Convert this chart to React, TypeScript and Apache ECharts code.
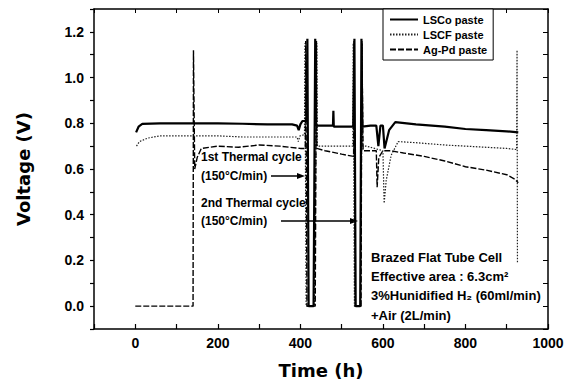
import React, { useEffect, useRef } from "react";
import * as echarts from "echarts";

const seriesNames = ["LSCo paste", "LSCF paste", "Ag-Pd paste"];

const lscoTime = [2, 8, 17, 60, 140, 200, 260, 320, 380, 392, 396, 400, 405, 415, 417, 420, 432, 436, 438, 470, 479, 480, 481, 528, 531, 534, 545, 548, 550, 570, 584, 589, 594, 600, 604, 615, 630, 680, 750, 800, 850, 900, 928];
const lscoV = [0.76, 0.785, 0.797, 0.8, 0.8, 0.8, 0.798, 0.795, 0.795, 0.79, 0.77, 0.795, 0.81, 0.81, 1.17, 0.0, 0.0, 1.17, 0.79, 0.79, 0.79, 0.855, 0.785, 0.785, 1.17, 0.0, 0.0, 1.17, 0.785, 0.79, 0.79, 0.7, 0.79, 0.79, 0.69, 0.77, 0.805, 0.795, 0.785, 0.775, 0.77, 0.765, 0.76];

const lscfTime = [3, 10, 30, 60, 140, 200, 260, 320, 380, 392, 395, 399, 410, 411, 414, 434, 440, 441, 450, 490, 527, 528, 531, 546, 550, 551, 560, 580, 600, 603, 608, 620, 637, 680, 750, 800, 850, 900, 924, 925, 926];
const lscfV = [0.7, 0.72, 0.735, 0.745, 0.745, 0.745, 0.74, 0.74, 0.74, 0.74, 0.72, 0.745, 0.75, 1.15, 0.0, 0.0, 1.15, 0.7, 0.7, 0.7, 0.7, 1.15, 0.0, 0.0, 1.15, 0.7, 0.7, 0.69, 0.68, 0.45, 0.55, 0.66, 0.72, 0.715, 0.705, 0.7, 0.695, 0.69, 0.685, 1.12, 0.19];

const agpdTime = [0, 140, 141, 144, 150, 160, 200, 250, 300, 350, 400, 412, 413, 416, 436, 439, 440, 460, 500, 529, 530, 533, 547, 549, 552, 570, 584, 586, 590, 600, 618, 650, 700, 750, 800, 850, 900, 920, 928];
const agpdV = [0.0, 0.0, 1.12, 0.6, 0.65, 0.69, 0.7, 0.695, 0.705, 0.7, 0.69, 0.69, 1.16, 0.0, 0.0, 1.16, 0.69, 0.68, 0.665, 0.655, 1.16, 0.0, 0.0, 1.16, 0.68, 0.68, 0.68, 0.52, 0.65, 0.68, 0.68, 0.67, 0.655, 0.635, 0.61, 0.595, 0.575, 0.555, 0.54];

const xMin = -100;
const xMax = 1000;
const yMin = -0.1;
const yMax = 1.3;

const zip = (t: number[], v: number[]) => t.map((x, i) => [x, v[i]]);

const FONT = "Liberation Sans, Arial, sans-serif";
const TITLE_FONT = "DejaVu Sans, sans-serif";

export default function App() {
  const ref = useRef<HTMLDivElement>(null);
  useEffect(() => {
    if (!ref.current) return;
    const chart = echarts.init(ref.current, undefined, { renderer: "svg" });
    const axisLine = { show: true, onZero: false, lineStyle: { color: "#000", width: 1.5 } };
    const txt = (text: string, x: number, y: number, size = 12) => ({
      type: "text",
      x,
      y,
      style: {
        text,
        fill: "#000",
        fontSize: size,
        fontWeight: "bold",
        fontFamily: FONT,
        verticalAlign: "middle",
        align: "left",
      },
    });
    chart.setOption({
      animation: false,
      backgroundColor: "#fff",
      grid: { left: 94, right: 21, top: 9, bottom: 58, containLabel: false },
      legend: {
        data: seriesNames,
        orient: "vertical",
        left: 383,
        top: 9,
        padding: [5, 6, 5, 6],
        itemGap: 4,
        itemWidth: 28,
        itemHeight: 10,
        borderColor: "#000",
        borderWidth: 1,
        backgroundColor: "#fff",
        itemStyle: { opacity: 0 },
        textStyle: { fontSize: 11, fontWeight: "bold", fontFamily: FONT, color: "#000" },
      },
      xAxis: [
        {
          type: "value",
          min: xMin,
          max: xMax,
          interval: 100,
          name: "Time (h)",
          nameLocation: "middle",
          nameGap: 32,
          nameTextStyle: { fontSize: 18, fontWeight: "bold", fontFamily: TITLE_FONT, color: "#000" },
          axisLine,
          axisTick: { show: true, inside: true, length: 5, lineStyle: { color: "#000", width: 1.2 } },
          axisLabel: {
            margin: 7,
            fontSize: 14,
            fontWeight: "bold",
            fontFamily: FONT,
            color: "#000",
            formatter: (v: number) => {
              const r = Math.round(v);
              return r < 0 || r % 200 !== 0 ? "" : String(r);
            },
          },
          splitLine: { show: false },
        },
        {
          type: "value",
          position: "top",
          min: xMin,
          max: xMax,
          interval: 100,
          axisLine,
          axisTick: { show: true, inside: true, length: 4, lineStyle: { color: "#000" } },
          axisLabel: { show: false },
          splitLine: { show: false },
        },
      ],
      yAxis: [
        {
          type: "value",
          min: yMin,
          max: yMax,
          interval: 0.1,
          name: "Voltage (V)",
          nameLocation: "middle",
          nameGap: 62,
          nameTextStyle: { fontSize: 18, fontWeight: "bold", fontFamily: TITLE_FONT, color: "#000" },
          axisLine,
          axisTick: { show: true, inside: false, length: 4, lineStyle: { color: "#000", width: 1.2 } },
          axisLabel: {
            margin: 10,
            fontSize: 14,
            fontWeight: "bold",
            fontFamily: FONT,
            color: "#000",
            formatter: (v: number) => {
              const r = Math.round(v * 10);
              return r < 0 || r % 2 !== 0 || r > 12 ? "" : (r / 10).toFixed(1);
            },
          },
          splitLine: { show: false },
        },
        {
          type: "value",
          position: "right",
          min: yMin,
          max: yMax,
          interval: 0.1,
          axisLine,
          axisTick: { show: true, inside: true, length: 5, lineStyle: { color: "#000" } },
          axisLabel: { show: false },
          splitLine: { show: false },
        },
      ],
      series: [
        {
          name: seriesNames[0],
          type: "line",
          data: zip(lscoTime, lscoV),
          showSymbol: false,
          symbol: "none",
          lineStyle: { color: "#000", width: 2.2, type: "solid" },
          itemStyle: { color: "#000" },
          z: 3,
        },
        {
          name: seriesNames[1],
          type: "line",
          data: zip(lscfTime, lscfV),
          showSymbol: false,
          symbol: "none",
          lineStyle: { color: "#222", width: 1.2, type: [1.5, 1.5] },
          itemStyle: { color: "#000" },
          z: 2,
        },
        {
          name: seriesNames[2],
          type: "line",
          data: zip(agpdTime, agpdV),
          showSymbol: false,
          symbol: "none",
          lineStyle: { color: "#000", width: 1.4, type: [6, 2] },
          itemStyle: { color: "#000" },
          z: 2,
        },
      ],
      graphic: [
        txt("1st Thermal cycle", 201, 157),
        txt("(150°C/min)", 201, 176),
        txt("2nd Thermal cycle", 201, 203),
        txt("(150°C/min)", 201, 221),
        { type: "line", shape: { x1: 271, y1: 176, x2: 299, y2: 176 }, style: { stroke: "#000", lineWidth: 1.5 } },
        { type: "polygon", shape: { points: [[305, 176], [297, 173], [297, 179]] }, style: { fill: "#000" } },
        { type: "line", shape: { x1: 281, y1: 221, x2: 352, y2: 221 }, style: { stroke: "#000", lineWidth: 1.5 } },
        { type: "polygon", shape: { points: [[358, 221], [350, 218], [350, 224]] }, style: { fill: "#000" } },
        txt("Brazed Flat Tube Cell", 371, 257, 13),
        txt("Effective area : 6.3cm²", 371, 276, 13),
        txt("3%Hunidified H₂ (60ml/min)", 371, 295, 13),
        txt("+Air (2L/min)", 371, 315, 13),
      ],
    });
    return () => chart.dispose();
  }, []);
  return (
    <div
      ref={ref}
      style={{ position: "fixed", left: 0, top: 0, width: 569, height: 387, background: "#fff" }}
    />
  );
}
